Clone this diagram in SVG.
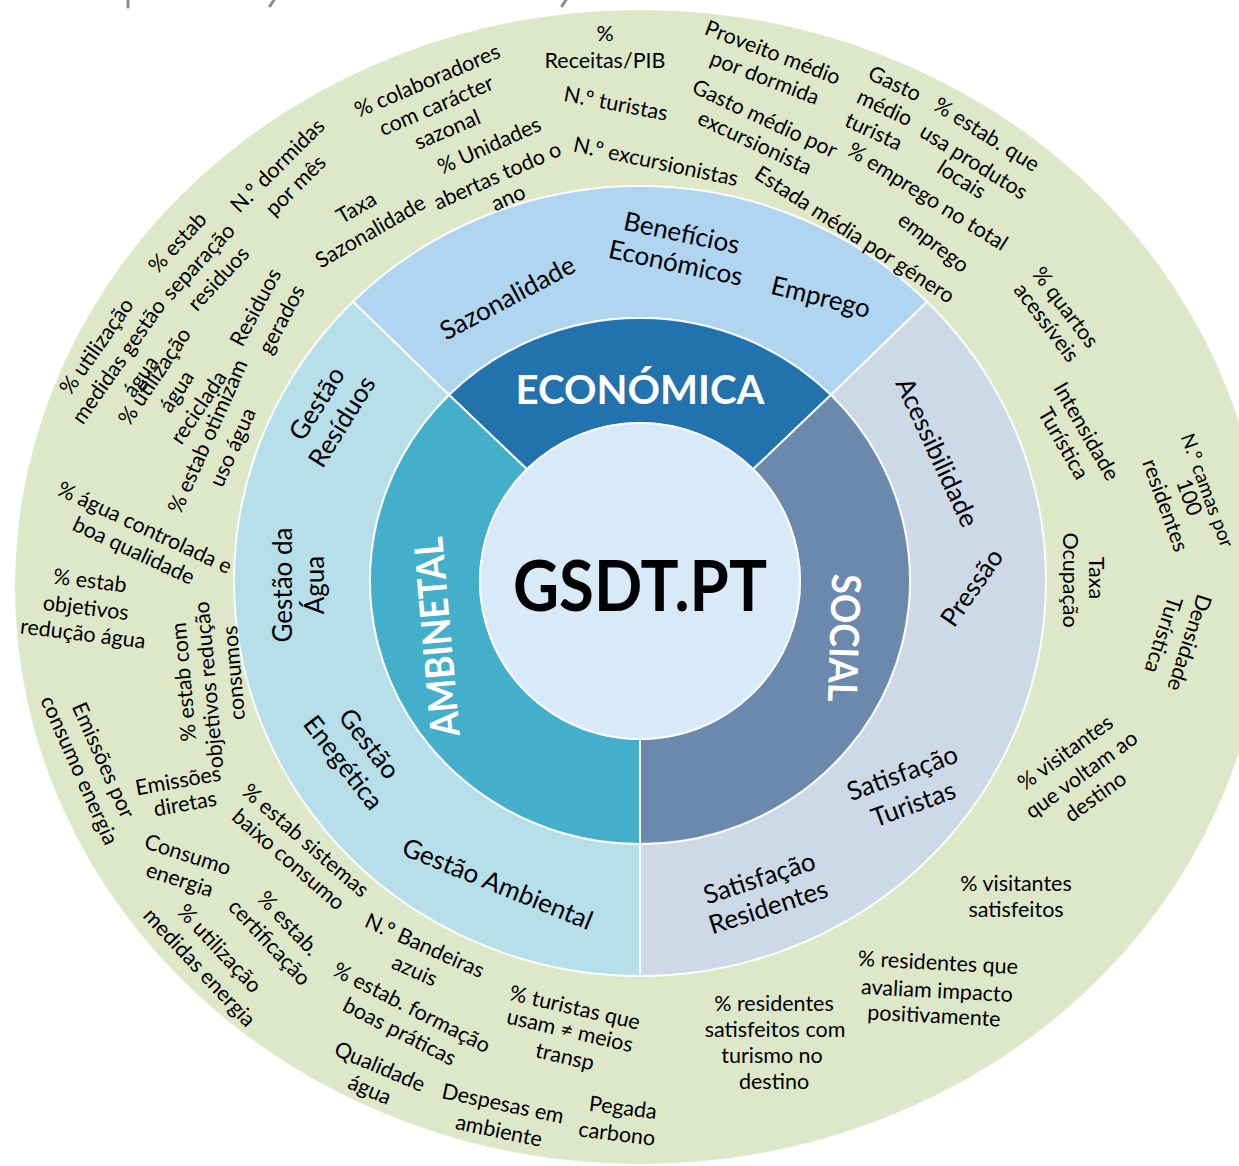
<svg xmlns="http://www.w3.org/2000/svg" width="1239" height="1166" viewBox="0 0 1239 1166">
<style>
.t{font-family:Lato,"Liberation Sans",sans-serif;font-size:21.5px;fill:#000;text-anchor:middle;dominant-baseline:central}
.m{font-size:26px}
.w{font-weight:bold;fill:#fff;font-size:40px}
.g{font-weight:bold;font-size:71px}
.sep{stroke:#fff;stroke-width:2;stroke-opacity:0.9}
.mark{stroke:#8a8a8a;stroke-width:3;stroke-linecap:round}
</style>
<rect width="1239" height="1166" fill="#fff"/>
<g id="top-marks">
<line class="mark" x1="128" y1="0" x2="128" y2="7"/>
<line class="mark" x1="274" y1="0" x2="270" y2="6"/>
<line class="mark" x1="566" y1="0" x2="562" y2="6"/>
</g>
<g id="ring-indicators">
<ellipse cx="640" cy="587" rx="625" ry="577" fill="#DFE7C9"/>
</g>
<g id="ring-themes">
<path id="econ-light" class="sep" fill="#AFD5F0" d="M352.9,301.7 A406,395 0 0 1 927.1,301.7 L830.9,395 A270,263 0 0 0 449.1,395 Z"/>
<path id="social-light" class="sep" fill="#CDD9E6" d="M927.1,301.7 A406,395 0 0 1 640,976 L640,844 A270,263 0 0 0 830.9,395 Z"/>
<path id="amb-light" class="sep" fill="#B6DFE9" d="M640,976 A406,395 0 0 1 352.9,301.7 L449.1,395 A270,263 0 0 0 640,844 Z"/>
</g>
<g id="ring-dimensions">
<path id="econ-dark" class="sep" fill="#2172AD" d="M449.1,395 A270,263 0 0 1 830.9,395 L753.1,469.3 A160,158 0 0 0 526.9,469.3 Z"/>
<path id="social-dark" class="sep" fill="#6A89AD" d="M830.9,395 A270,263 0 0 1 640,844 L640,739 A160,158 0 0 0 753.1,469.3 Z"/>
<path id="amb-dark" class="sep" fill="#44AFCB" d="M640,844 A270,263 0 0 1 449.1,395 L526.9,469.3 A160,158 0 0 0 640,739 Z"/>
</g>
<g id="center">
<ellipse class="sep" cx="640" cy="581" rx="160" ry="158" fill="#D8E9F7"/>
<text class="t g" x="640" y="583" textLength="254" lengthAdjust="spacingAndGlyphs">GSDT.PT</text>
</g>
<g id="connectors"></g>
<g id="dim-econ"><text class="t w" transform="translate(640,389)" textLength="249" lengthAdjust="spacingAndGlyphs">ECONÓMICA</text></g>
<g id="dim-social"><text class="t w" transform="translate(845,638) rotate(92)" textLength="128" lengthAdjust="spacingAndGlyphs">SOCIAL</text></g>
<g id="dim-amb"><text class="t w" transform="translate(436,637) rotate(-95)" textLength="200" lengthAdjust="spacingAndGlyphs">AMBINETAL</text></g>

<g id="theme-sazonalidade"><text class="t m" transform="translate(507,297) rotate(-28)">Sazonalidade</text></g>
<g id="theme-beneficios"><text class="t m" transform="translate(682,232) rotate(12)">Benefícios</text><text class="t m" transform="translate(676,262) rotate(12)">Económicos</text></g>
<g id="theme-emprego"><text class="t m" transform="translate(821,296) rotate(14)">Emprego</text></g>
<g id="theme-acessibilidade"><text class="t m" transform="translate(938,452) rotate(65)">Acessibilidade</text></g>
<g id="theme-pressao"><text class="t m" transform="translate(971,587) rotate(-55)">Pressão</text></g>
<g id="theme-sat-turistas"><text class="t m" transform="translate(902,772) rotate(-20)">Satisfação</text><text class="t m" transform="translate(913,803) rotate(-20)">Turistas</text></g>
<g id="theme-sat-residentes"><text class="t m" transform="translate(759,877) rotate(-18)">Satisfação</text><text class="t m" transform="translate(768,906) rotate(-18)">Residentes</text></g>
<g id="theme-residuos"><text class="t m" transform="translate(316,403) rotate(-58)">Gestão</text><text class="t m" transform="translate(341,421) rotate(-58)">Resíduos</text></g>
<g id="theme-agua"><text class="t m" transform="translate(282,585) rotate(-90)">Gestão da</text><text class="t m" transform="translate(314,585) rotate(-90)">Água</text></g>
<g id="theme-energia"><text class="t m" transform="translate(370,743) rotate(52)">Gestão</text><text class="t m" transform="translate(344,762) rotate(52)">Enegética</text></g>
<g id="theme-ambiental"><text class="t m" transform="translate(498,883) rotate(22)">Gestão Ambiental</text></g>

<g id="ind-taxa-sazonalidade"><text class="t" transform="translate(356,207) rotate(-30)">Taxa</text><text class="t" transform="translate(370,231) rotate(-30)">Sazonalidade</text></g>
<g id="ind-unidades"><text class="t" transform="translate(489,145) rotate(-24)">% Unidades</text><text class="t" transform="translate(497,175) rotate(-24)">abertas todo o</text><text class="t" transform="translate(508,197) rotate(-24)">ano</text></g>
<g id="ind-colaboradores"><text class="t" transform="translate(427,80) rotate(-23)">% colaboradores</text><text class="t" transform="translate(436,105) rotate(-23)">com carácter</text><text class="t" transform="translate(447,129) rotate(-23)">sazonal</text></g>
<g id="ind-dormidas"><text class="t" transform="translate(277,165) rotate(-45)">N.º dormidas</text><text class="t" transform="translate(295,185) rotate(-45)">por mês</text></g>
<g id="ind-receitas"><text class="t" transform="translate(605,33)">%</text><text class="t" transform="translate(605,60)">Receitas/PIB</text></g>
<g id="ind-turistas"><text class="t" transform="translate(616,103) rotate(11)">N.º turistas</text></g>
<g id="ind-excursionistas"><text class="t" transform="translate(656,161) rotate(12)">N.º excursionistas</text></g>
<g id="ind-proveito"><text class="t" transform="translate(773,52) rotate(21)">Proveito médio</text><text class="t" transform="translate(765,77) rotate(21)">por dormida</text></g>
<g id="ind-gasto-exc"><text class="t" transform="translate(765,118) rotate(25)">Gasto médio por</text><text class="t" transform="translate(755,142) rotate(25)">excursionista</text></g>
<g id="ind-estada"><text class="t" transform="translate(855,234) rotate(33)">Estada média por género</text></g>
<g id="ind-emprego-total"><text class="t" transform="translate(928,196) rotate(32)">% emprego no total</text><text class="t" transform="translate(934,242) rotate(38)">emprego</text></g>
<g id="ind-gasto-turista"><text class="t" transform="translate(895,83) rotate(25)">Gasto</text><text class="t" transform="translate(885,107) rotate(25)">médio</text><text class="t" transform="translate(874,131) rotate(25)">turista</text></g>
<g id="ind-produtos-locais"><text class="t" transform="translate(987,134) rotate(32)">% estab. que</text><text class="t" transform="translate(974,161) rotate(32)">usa produtos</text><text class="t" transform="translate(962,179) rotate(32)">locais</text></g>

<g id="ind-util-gestao-agua"><text class="t" transform="translate(96,346) rotate(-55)">% utilização</text><text class="t" transform="translate(118,361) rotate(-55)">medidas gestão</text><text class="t" transform="translate(140,376) rotate(-55)">água</text></g>
<g id="ind-util-agua-reciclada"><text class="t" transform="translate(154,376) rotate(-56)">% utilização</text><text class="t" transform="translate(176,391) rotate(-56)">água</text><text class="t" transform="translate(198,407) rotate(-56)">reciclada</text></g>
<g id="ind-separacao"><text class="t" transform="translate(177,242) rotate(-47)">% estab</text><text class="t" transform="translate(198,261) rotate(-47)">separação</text><text class="t" transform="translate(218,278) rotate(-47)">residuos</text></g>
<g id="ind-residuos"><text class="t" transform="translate(255,307) rotate(-62)">Residuos</text><text class="t" transform="translate(281,319) rotate(-62)">gerados</text></g>
<g id="ind-otimizam"><text class="t" transform="translate(207,436) rotate(-66)">% estab otimizam</text><text class="t" transform="translate(232,447) rotate(-66)">uso água</text></g>
<g id="ind-agua-controlada"><text class="t" transform="translate(145,527) rotate(25)">% água controlada e</text><text class="t" transform="translate(134,550) rotate(25)">boa qualidade</text></g>
<g id="ind-obj-agua"><text class="t" transform="translate(90,580) rotate(7)">% estab</text><text class="t" transform="translate(86,607) rotate(7)">objetivos</text><text class="t" transform="translate(83,633) rotate(7)">redução água</text></g>
<g id="ind-obj-consumos"><text class="t" transform="translate(183,682) rotate(-95)">% estab com</text><text class="t" transform="translate(208,685) rotate(-95)">objetivos redução</text><text class="t" transform="translate(233,673) rotate(-95)">consumos</text></g>
<g id="ind-emissoes-energia"><text class="t" transform="translate(104,760) rotate(66)">Emissões por</text><text class="t" transform="translate(80,770) rotate(66)">consumo energia</text></g>
<g id="ind-emissoes-diretas"><text class="t" transform="translate(178,780) rotate(-10)">Emissões</text><text class="t" transform="translate(185,803) rotate(-10)">diretas</text></g>
<g id="ind-consumo-energia"><text class="t" transform="translate(188,854) rotate(18)">Consumo</text><text class="t" transform="translate(180,879) rotate(18)">energia</text></g>
<g id="ind-baixo-consumo"><text class="t" transform="translate(306,840) rotate(41)">% estab sistemas</text><text class="t" transform="translate(289,859) rotate(41)">baixo consumo</text></g>
<g id="ind-certificacao"><text class="t" transform="translate(289,923) rotate(47)">% estab.</text><text class="t" transform="translate(270,942) rotate(47)">certificação</text></g>
<g id="ind-medidas-energia"><text class="t" transform="translate(220,948) rotate(47)">% utilização</text><text class="t" transform="translate(200,967) rotate(47)">medidas energia</text></g>
<g id="ind-bandeiras"><text class="t" transform="translate(425,945) rotate(24)">N.º Bandeiras</text><text class="t" transform="translate(415,970) rotate(24)">azuis</text></g>
<g id="ind-formacao"><text class="t" transform="translate(412,1007) rotate(27)">% estab. formação</text><text class="t" transform="translate(400,1031) rotate(27)">boas práticas</text></g>
<g id="ind-transp"><text class="t" transform="translate(575,1007) rotate(13)">% turistas que</text><text class="t" transform="translate(570,1030) rotate(13)">usam ≠ meios</text><text class="t" transform="translate(565,1056) rotate(13)">transp</text></g>
<g id="ind-qualidade-agua"><text class="t" transform="translate(380,1066) rotate(23)">Qualidade</text><text class="t" transform="translate(370,1089) rotate(23)">água</text></g>
<g id="ind-despesas"><text class="t" transform="translate(503,1103) rotate(12)">Despesas em</text><text class="t" transform="translate(499,1130) rotate(12)">ambiente</text></g>
<g id="ind-pegada"><text class="t" transform="translate(623,1107) rotate(7)">Pegada</text><text class="t" transform="translate(617,1133) rotate(7)">carbono</text></g>

<g id="ind-quartos"><text class="t" transform="translate(1066,307) rotate(53)">% quartos</text><text class="t" transform="translate(1047,322) rotate(53)">acessíveis</text></g>
<g id="ind-intensidade"><text class="t" transform="translate(1087,431) rotate(60)">Intensidade</text><text class="t" transform="translate(1064,443) rotate(60)">Turística</text></g>
<g id="ind-camas"><text class="t" style="font-size:19.5px" transform="translate(1208,490) rotate(70)">N.º camas por</text><text class="t" transform="translate(1190,497) rotate(70)">100</text><text class="t" transform="translate(1166,505) rotate(70)">residentes</text></g>
<g id="ind-ocupacao"><text class="t" transform="translate(1097,578) rotate(90)">Taxa</text><text class="t" transform="translate(1071,580) rotate(90)">Ocupação</text></g>
<g id="ind-densidade"><text class="t" transform="translate(1190,643) rotate(108)">Densidade</text><text class="t" transform="translate(1164,635) rotate(108)">Turística</text></g>
<g id="ind-voltam"><text class="t" transform="translate(1065,752) rotate(-36)">% visitantes</text><text class="t" transform="translate(1081,774) rotate(-36)">que voltam ao</text><text class="t" transform="translate(1095,796) rotate(-36)">destino</text></g>
<g id="ind-satisfeitos"><text class="t" transform="translate(1016,883)">% visitantes</text><text class="t" transform="translate(1016,909)">satisfeitos</text></g>
<g id="ind-impacto"><text class="t" transform="translate(938,962) rotate(3)">% residentes que</text><text class="t" transform="translate(937,990) rotate(3)">avaliam impacto</text><text class="t" transform="translate(934,1015) rotate(3)">positivamente</text></g>
<g id="ind-res-satisfeitos"><text class="t" transform="translate(774,1003)">% residentes</text><text class="t" transform="translate(775,1029)">satisfeitos com</text><text class="t" transform="translate(772,1055)">turismo no</text><text class="t" transform="translate(774,1081)">destino</text></g>
</svg>
